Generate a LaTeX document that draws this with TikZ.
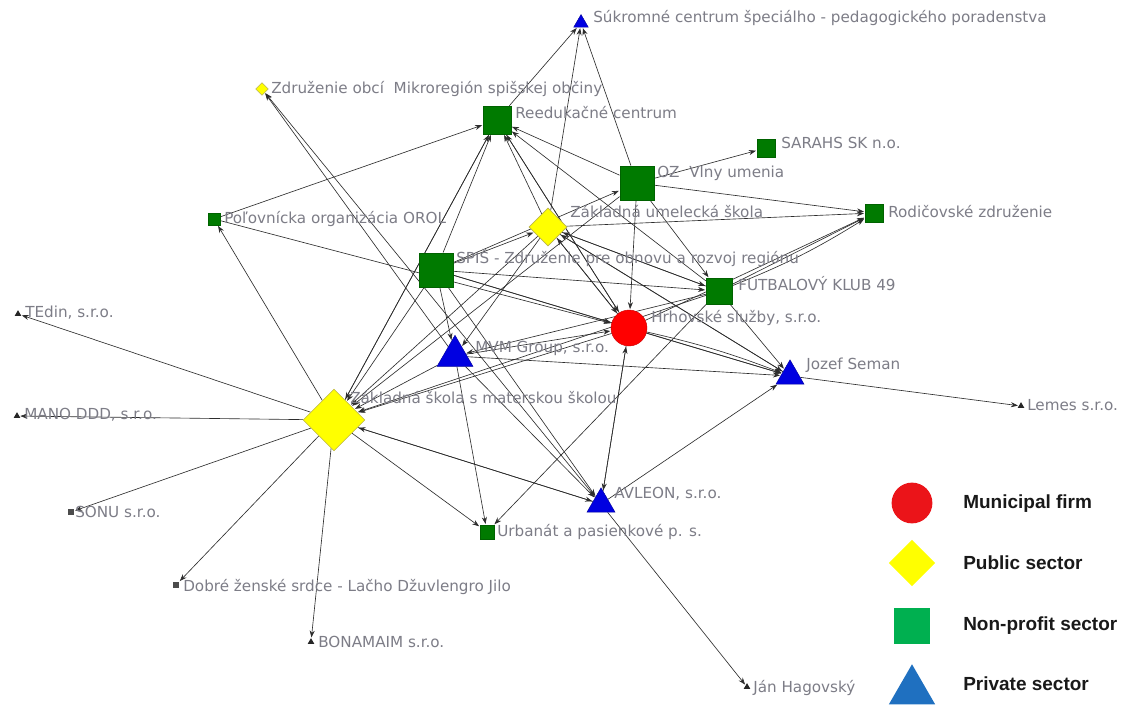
\documentclass[tikz,border=0pt]{standalone}
\usepackage{fontspec}
\setmainfont{DejaVu Sans}
\newfontfamily\legfont{Liberation Sans}
\usetikzlibrary{shapes.geometric,arrows.meta,backgrounds}
\definecolor{ngreen}{RGB}{0,122,0}
\definecolor{nblue}{RGB}{0,0,225}
\definecolor{nyellow}{RGB}{255,255,0}
\definecolor{nred}{RGB}{255,0,0}
\definecolor{labgray}{RGB}{125,125,135}
\definecolor{edgegray}{RGB}{45,45,45}
\definecolor{lred}{RGB}{235,20,25}
\definecolor{lyellow}{RGB}{255,255,0}
\definecolor{lgreen}{RGB}{0,176,80}
\definecolor{lblue}{RGB}{31,112,192}
\pgfdeclarelayer{edgelayer}
\pgfsetlayers{background,edgelayer,main}
\tikzset{
  lab/.style={anchor=west, text=labgray, font=\fontsize{10.8}{12}\selectfont, inner sep=0pt},
  sq/.style={rectangle, fill=ngreen, draw=ngreen!80!black, line width=0.3pt, inner sep=0pt, minimum size=#1},
  dia/.style={diamond, fill=nyellow, draw=olive!60, line width=0.4pt, inner sep=0pt, minimum size=#1},
  tri/.style={regular polygon, regular polygon sides=3, fill=nblue, draw=nblue!70!black, line width=0.3pt, inner sep=0pt, minimum size=#1},
  tiny/.style={regular polygon, regular polygon sides=3, fill=black!85, inner sep=0pt, minimum size=5.5pt},
  tinysq/.style={rectangle, fill=black!70, inner sep=0pt, minimum size=4.5pt},
  circ/.style={circle, fill=nred, draw=nred!80!black, line width=0.3pt, inner sep=0pt, minimum size=#1},
  edge/.style={-{Stealth[length=5pt,width=3.6pt]}, draw=edgegray, line width=0.45pt, shorten >=0.5pt},
  legtext/.style={anchor=west, font=\legfont\bfseries\fontsize{13.5}{15}\selectfont, inner sep=0pt, text=black!90}
}
\begin{document}
\begin{tikzpicture}[x=0.025cm,y=-0.025cm]
\useasboundingbox (0,0) rectangle (1125,704);
\begin{pgfonlayer}{background}
\fill[white] (0,0) rectangle (1125,704);
\end{pgfonlayer}

% main nodes
\node[tri=12pt] (suk) at (581,23) {};
\node[dia=9pt] (zdo) at (262,89) {};
\node[sq=20pt] (ree) at (497,120) {};
\node[sq=13pt] (sar) at (766,148) {};
\node[sq=24.5pt] (oz) at (637,183) {};
\node[sq=13pt] (rod) at (874,213) {};
\node[sq=8.5pt] (pol) at (214,219) {};
\node[dia=27pt] (zus) at (548,227) {};
\node[sq=24.5pt] (spis) at (436,270) {};
\node[sq=18.5pt] (fk) at (719,291) {};
\node[circ=25.6pt] (hrh) at (629,328) {};
\node[tri=29.5pt] (mvm) at (455,356) {};
\node[tri=23pt] (joz) at (790,376) {};
\node[dia=44pt] (zss) at (334,420) {};
\node[tri=23pt] (avl) at (601,504) {};
\node[sq=10pt] (urb) at (487,532) {};
\node[tiny] (ted) at (18,314) {};
\node[tiny] (mano) at (17,416) {};
\node[tinysq] (sonu) at (71,512) {};
\node[tiny] (lem) at (1021,406) {};
\node[tinysq] (dob) at (176,585) {};
\node[tiny] (bon) at (311,642) {};
\node[tiny] (jan) at (747,687) {};

% labels
\node[lab] (lsuk) at (593,18) {Súkromné centrum špeciálho - pedagogického poradenstva};
\node[lab] (lzdo) at (271,89) {Združenie obcí\ \ Mikroregión spišskej občiny};
\node[lab] (lree) at (515,113) {Reedukačné centrum};
\node[lab] (lsar) at (781,143) {SARAHS SK n.o.};
\node[lab] (loz) at (657,173) {OZ\ \ Vlny umenia};
\node[lab] (lrod) at (888,212) {Rodičovské združenie};
\node[lab] (lpol) at (224,219) {Poľovnícka organizácia OROL};
\node[lab] (lzus) at (570,212) {Základná umelecká škola};
\node[lab] (lspis) at (456,258) {SPIŠ - Združenie pre obnovu a rozvoj regiónu};
\node[lab] (lfk) at (738,284) {FUTBALOVÝ KLUB 49};
\node[lab] (lhrh) at (651,318) {Hrhovské služby, s.r.o.};
\node[lab] (lmvm) at (475,348) {MVM Group, s.r.o.};
\node[lab] (ljoz) at (806,365) {Jozef Seman};
\node[lab] (lzss) at (350,398) {Základná škola s materskou školou};
\node[lab] (lted) at (25,313) {TEdin, s.r.o.};
\node[lab] (lmano) at (24,415) {MANO DDD, s.r.o.};
\node[lab] (lsonu) at (75,512) {SONU s.r.o.};
\node[lab] (llem) at (1027,405) {Lemes s.r.o.};
\node[lab] (lavl) at (614,494) {AVLEON, s.r.o.};
\node[lab] (lurb) at (497,532) {Urbanát a pasienkové p. s.};
\node[lab] (ldob) at (183,587) {Dobré ženské srdce - Lačho Džuvlengro Jilo};
\node[lab] (lbon) at (318,642) {BONAMAIM s.r.o.};
\node[lab] (ljan) at (753,688) {Ján Hagovský};

% legend
\node[circle, fill=lred, inner sep=0pt, minimum size=29pt] (lgred) at (912,503) {};
\node[legtext] (lgt1) at (963,504) {Municipal firm};
\node[diamond, fill=lyellow, inner sep=0pt, minimum size=33pt] (lgyel) at (912,563) {};
\node[legtext] (lgt2) at (963,563) {Public sector};
\node[rectangle, fill=lgreen, inner sep=0pt, minimum size=26pt] (lggrn) at (912,626) {};
\node[legtext] (lgt3) at (963,626) {Non-profit sector};
\node[regular polygon, regular polygon sides=3, fill=lblue, inner sep=0pt, minimum size=38pt] (lgblu) at (912,691) {};
\node[legtext] (lgt4) at (963,684) {Private sector};

% edges
\begin{pgfonlayer}{edgelayer}
\foreach \a/\b in {
  zss/ted, zss/mano, zss/sonu, zss/dob, zss/bon, zss/pol, zss/urb,
  avl/zss, spis/zss, ree/zss, zus/zss, mvm/zss, hrh/zss, oz/zss, fk/zss,
  mvm/zdo, avl/zdo,
  ree/suk, zus/suk, oz/suk,
  pol/ree, spis/ree, zus/ree, oz/ree, fk/ree, hrh/ree, zss/ree,
  oz/sar, oz/rod, zus/rod, fk/rod, hrh/rod,
  hrh/zus, fk/zus, joz/zus, spis/zus,
  spis/fk, zus/fk, oz/fk,
  spis/hrh, pol/hrh, zus/hrh, ree/hrh, mvm/hrh, avl/hrh, oz/hrh,
  hrh/joz, mvm/joz, spis/joz, fk/joz, avl/joz, zus/joz,
  joz/lem,
  spis/mvm, zus/mvm, fk/mvm,
  spis/avl, mvm/avl, zss/avl, hrh/avl,
  avl/jan,
  mvm/urb, fk/urb,
  spis/oz}
  \draw[edge] (\a) -- (\b);
\draw[edge] (hrh) to[bend left=4] (joz);
\draw[edge] (fk) to[bend right=5] (rod);
\end{pgfonlayer}
\end{tikzpicture}
\end{document}
